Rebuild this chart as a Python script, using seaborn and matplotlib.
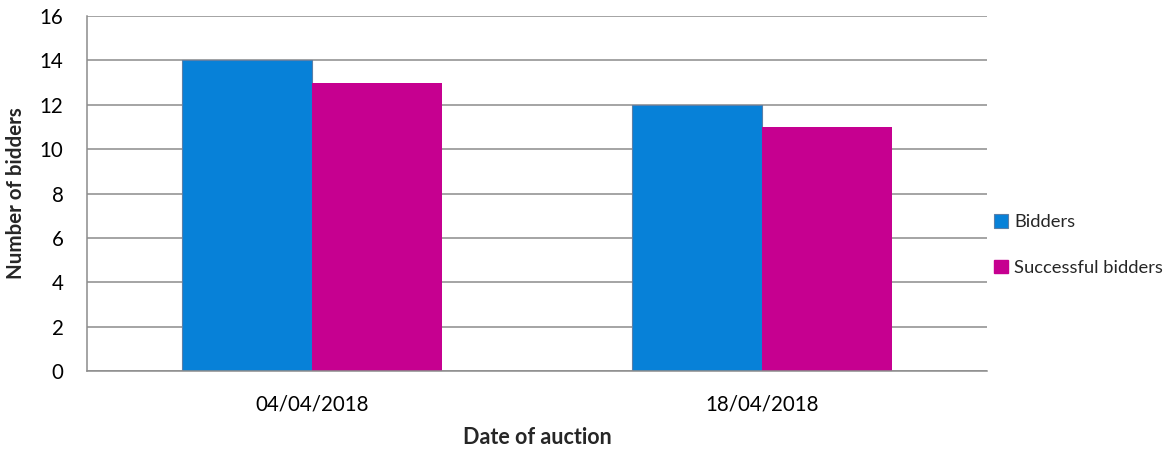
import pandas as pd
import seaborn as sns
import matplotlib.pyplot as plt
from matplotlib.patches import Patch

dates = ["04/04/2018", "18/04/2018"]
series = ["Bidders", "Successful bidders"]
bidders = [14, 12]
successful = [13, 11]
y_ticks = [0, 2, 4, 6, 8, 10, 12, 14, 16]

colors = ["#0781D8", "#C60090"]

df = pd.DataFrame({
    "date": dates * 2,
    "series": [series[0]] * 2 + [series[1]] * 2,
    "value": bidders + successful,
})

sns.set_style("white")
plt.rcParams["font.family"] = ["Lato", "DejaVu Sans"]

fig = plt.figure(figsize=(11.65, 4.5), dpi=100)
ax = fig.add_axes([87 / 1165, 79 / 450, 900 / 1165, 355 / 450])

sns.barplot(data=df, x="date", y="value", hue="series", palette=colors,
            width=0.578, gap=0, dodge=True, ax=ax, legend=False,
            saturation=1, linewidth=0)
for p in ax.patches[:2]:
    p.set_edgecolor("#5a7fa8")
    p.set_linewidth(0.8)

ax.set_xlim(-0.5, 1.5)
ax.set_ylim(0, 16)
ax.set_yticks(y_ticks)
ax.yaxis.grid(True, color="#8c8c8c", linewidth=1.1)
ax.set_axisbelow(True)
for s in ["top", "right"]:
    ax.spines[s].set_visible(False)
for s in ["left", "bottom"]:
    ax.spines[s].set_color("#8c8c8c")
    ax.spines[s].set_linewidth(1.1)
ax.tick_params(axis="y", length=0, pad=17, labelsize=14.8, colors="black")
ax.tick_params(axis="x", length=0, pad=17, labelsize=14.8, colors="black")

ax.set_xlabel("Date of auction", fontsize=15.5, fontweight="bold", labelpad=9)
ax.set_ylabel("Number of bidders", fontsize=14.8, fontweight="bold", labelpad=10)

handles = [Patch(facecolor=colors[0], edgecolor="#5a7fa8", linewidth=0.8),
           Patch(facecolor=colors[1], edgecolor=colors[1])]
fig.legend(handles, series, loc="center left", bbox_to_anchor=(994 / 1165, 1 - 245 / 450),
           frameon=False, fontsize=13.2, handlelength=0.75, handleheight=0.75,
           handletextpad=0.35, labelspacing=1.6, borderpad=0, borderaxespad=0)

fig.savefig("out.png", dpi=100)
